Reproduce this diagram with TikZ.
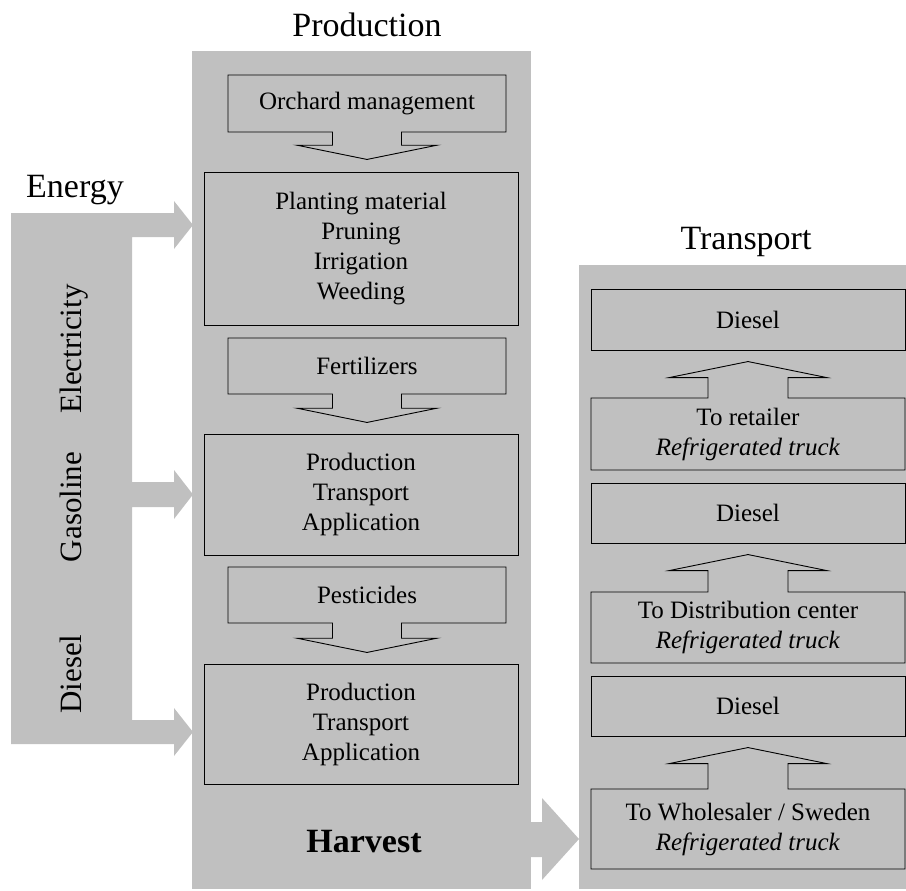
\documentclass[tikz,border=0pt]{standalone}
\usepackage{fontspec}
\setmainfont{Liberation Serif}
\usetikzlibrary{shapes.arrows}
\definecolor{panelgray}{RGB}{192,192,192}
\begin{document}
\begin{tikzpicture}[x=1pt,y=-1pt,
  panel/.style={fill=panelgray,draw=none,inner sep=0pt},
  title/.style={anchor=base,font=\fontsize{34}{40}\selectfont},
  fuel/.style={rotate=90,anchor=base,font=\fontsize{31}{36}\selectfont},
  box/.style={draw,line width=0.9pt,inner sep=0pt,minimum width=314pt,align=center,font=\fontsize{25}{30}\selectfont},
  downcall/.style={box,shape=arrow box,minimum width=278pt,minimum height=56pt,
    arrow box shaft width=69pt,arrow box head extend=35.5pt,arrow box tip angle=157,
    arrow box arrows={north:none,east:none,west:none,south:#1}},
  upcall/.style={box,shape=arrow box,
    arrow box shaft width=80pt,arrow box head extend=39pt,arrow box tip angle=157,
    arrow box arrows={south:none,east:none,west:none,north:#1}}]
\useasboundingbox (0,0) rectangle (906,891);

% gray panels
\node[panel,minimum width=339pt,minimum height=838pt] (prod) at (361.5,470) {};
\node[panel,minimum width=327pt,minimum height=624pt] (trans) at (742.5,577) {};
\fill[panelgray] (11,213) -- (174,213) -- (174,201) -- (193,225) -- (174,249) -- (174,237)
  -- (132,237) -- (132,482) -- (174,482) -- (174,470) -- (193,494.5) -- (174,519) -- (174,507)
  -- (132,507) -- (132,720) -- (174,720) -- (174,708) -- (193,732) -- (174,756) -- (174,744)
  -- (11,744) -- cycle;
\fill[panelgray] (529,822) -- (542,822) -- (542,798) -- (579,839) -- (542,880) -- (542,857) -- (529,857) -- cycle;

% titles
\node[title] (prodtitle) at (367,37) {Production};
\node[title] (transtitle) at (746,249) {Transport};
\node[title] (energytitle) at (75,197) {Energy};
\node[fuel] (elec) at (81,349) {Electricity};
\node[fuel] (gas) at (81,507) {Gasoline};
\node[fuel] (dies) at (81,674) {Diesel};

% production
\node[downcall=27pt,minimum height=57pt] (orchard) at (367,103.5) {Orchard management};
\node[box,minimum height=153pt] (planting) at (361,248.5) {Planting material\\Pruning\\Irrigation\\Weeding};
\node[downcall=28pt] (fert) at (367,366) {Fertilizers};
\node[box,minimum height=121pt] (fertapp) at (361,494.5) {Production\\Transport\\Application};
\node[downcall=29pt] (pest) at (367,595) {Pesticides};
\node[box,minimum height=120pt] (pestapp) at (361,724) {Production\\Transport\\Application};
\node[anchor=base,font=\bfseries\fontsize{34}{40}\selectfont] (harvest) at (364,852) {Harvest};

% transport
\node[box,minimum height=61pt] (diesel1) at (748,319.5) {Diesel};
\node[upcall=36pt,minimum height=72pt] (retail) at (748,434) {To retailer\\\textit{Refrigerated truck}};
\node[box,minimum height=60pt] (diesel2) at (748,513) {Diesel};
\node[upcall=37pt,minimum height=71pt] (distr) at (748,627.5) {To Distribution center\\\textit{Refrigerated truck}};
\node[box,minimum height=60pt] (diesel3) at (748,706) {Diesel};
\node[upcall=41pt,minimum height=80pt] (whole) at (748,829) {To Wholesaler / Sweden\\\textit{Refrigerated truck}};
\end{tikzpicture}
\end{document}
